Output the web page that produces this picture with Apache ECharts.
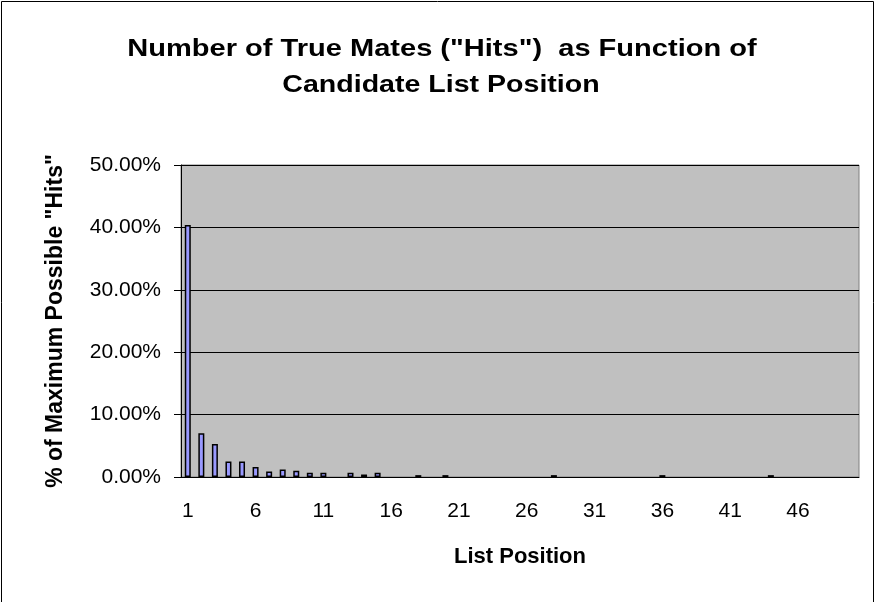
<!DOCTYPE html>
<html><head><meta charset="utf-8">
<script src="https://cdn.jsdelivr.net/npm/echarts@6/dist/echarts.min.js"></script>
<style>html,body{margin:0;padding:0;background:#fff}#c{width:877px;height:602px}</style>
</head><body><div id="c"></div>
<script>
const categories = Array.from({length:50},(_, i)=>String(i+1));
const hitPercent = [40.4,7.0,5.3,2.5,2.5,1.6,0.9,1.2,1.0,0.7,0.7,0,0.7,0.4,0.7,0,0,0.3,0,0.3,0,0,0,0,0,0,0,0.3,0,0,0,0,0,0,0,0.3,0,0,0,0,0,0,0,0.3,0,0,0,0,0,0];
const yTicks = [0,10,20,30,40,50];
const titleLines = ['Number of True Mates ("Hits")  as Function of','Candidate List Position'];

const FONT = 'Liberation Sans, Arial, sans-serif';
const chart = echarts.init(document.getElementById('c'));
chart.setOption({
  animation:false,
  backgroundColor:'#fff',
  graphic:[
    {type:'rect',shape:{x:1.5,y:1.5,width:872,height:620},style:{fill:null,stroke:'#000',lineWidth:1},silent:true},
    {type:'text',x:442,y:49,scaleX:1.21,style:{text:titleLines[0],font:'bold 24px '+FONT,fill:'#000',textAlign:'center',textVerticalAlign:'middle'}},
    {type:'text',x:441,y:85,scaleX:1.19,style:{text:titleLines[1],font:'bold 24px '+FONT,fill:'#000',textAlign:'center',textVerticalAlign:'middle'}}
  ],
  grid:{left:181,right:18,top:165,bottom:125,show:true,backgroundColor:'#C0C0C0',borderColor:'#808080',borderWidth:1},
  xAxis:{type:'category',data:categories,
    name:'List Position',nameLocation:'middle',nameGap:69,
    nameTextStyle:{fontFamily:FONT,fontWeight:'bold',fontSize:22,color:'#000'},
    axisLine:{lineStyle:{color:'#000',width:1}},
    axisTick:{interval:0,length:7,lineStyle:{color:'#000'}},
    axisLabel:{interval:4,margin:24,fontFamily:FONT,fontSize:21,color:'#000'}},
  yAxis:{type:'value',min:yTicks[0],max:yTicks[yTicks.length-1],interval:10,
    name:'% of Maximum Possible "Hits"',nameLocation:'middle',nameGap:114,
    nameTextStyle:{fontFamily:FONT,fontWeight:'bold',fontSize:23,color:'#000'},
    axisLine:{show:true,lineStyle:{color:'#000'}},
    axisTick:{show:true,length:7,lineStyle:{color:'#000'}},
    splitLine:{lineStyle:{color:'#000',width:1}},
    axisLabel:{margin:20,fontFamily:FONT,fontSize:21,color:'#000',formatter:v=>v.toFixed(2)+'%'}},
  series:[{type:'bar',data:hitPercent.map(v=>v===0?'-':v),barWidth:6,
    itemStyle:{color:'#9999FF',borderColor:'#000',borderWidth:1.5}}]
});
</script></body></html>
